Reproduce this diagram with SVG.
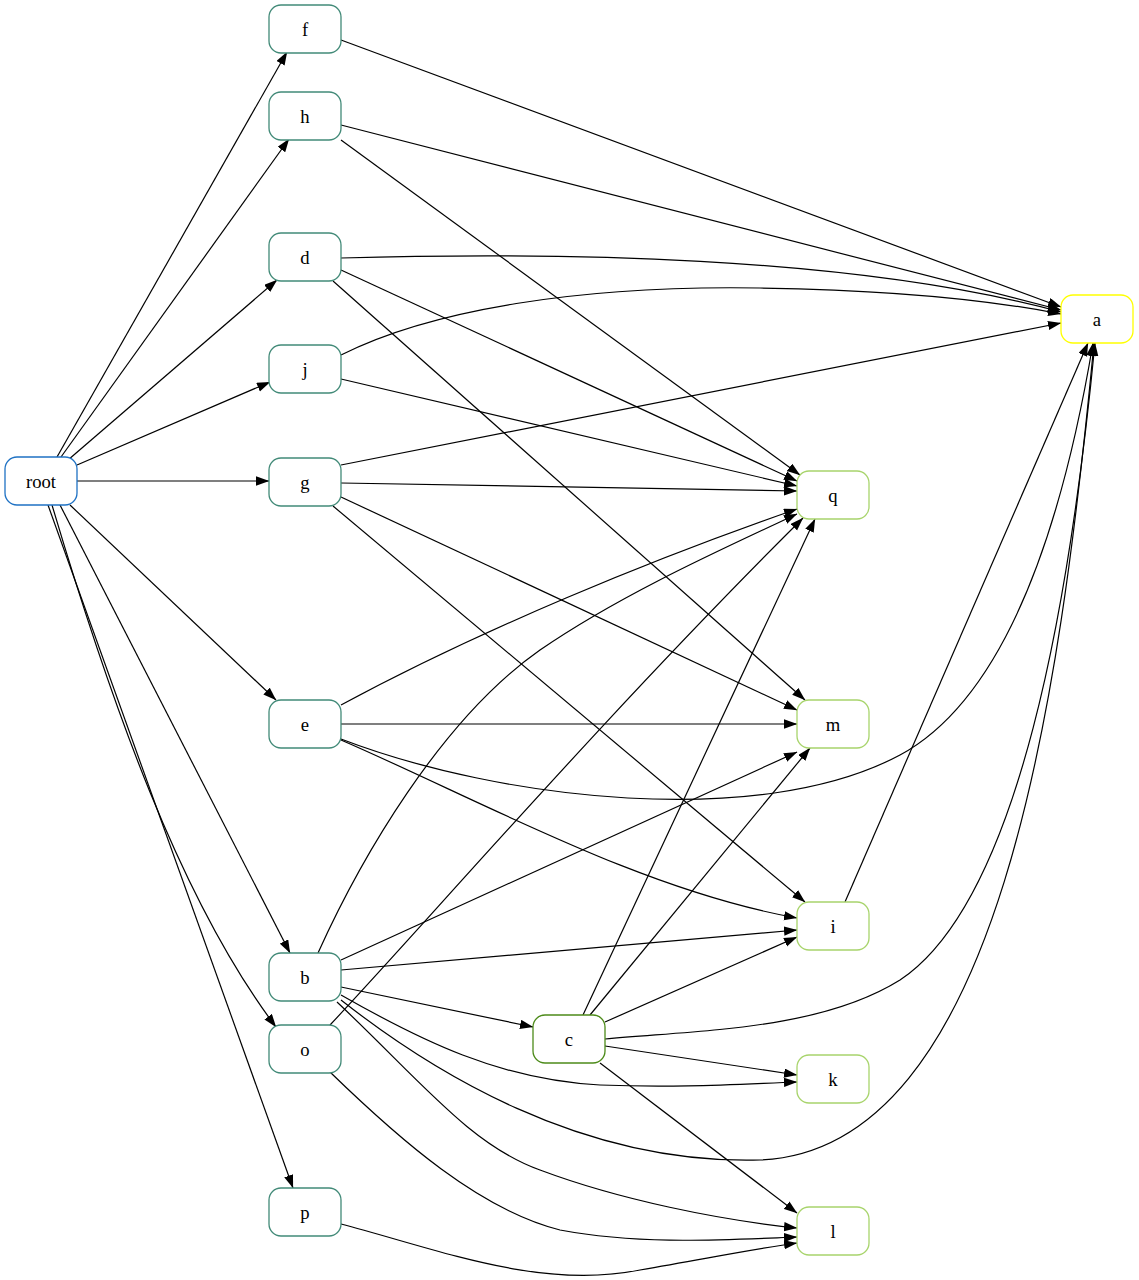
<svg xmlns="http://www.w3.org/2000/svg" width="1139" height="1280" viewBox="0 0 1139 1280">
<style>
.n rect{fill:#fff;stroke-width:1.3}
.n text{font-family:"Liberation Serif","Times New Roman",serif;font-size:18.67px;text-anchor:middle;dominant-baseline:central;fill:#000}
.r rect{stroke:#1f72c4}
.m rect{stroke:#428a78}
.c rect{stroke:#4d8b1a}
.lf rect{stroke:#a8d46c}
.ya rect{stroke:#ffff00}
#edges path{fill:none;stroke:#000;stroke-width:1.2;marker-end:url(#ah)}
</style>
<defs>
<marker id="ah" markerUnits="userSpaceOnUse" markerWidth="14" markerHeight="10" refX="13" refY="4.65" orient="auto"><path d="M0,0 L13.3,4.65 L0,9.3 z" fill="#000"/></marker>
</defs>
<rect width="1139" height="1280" fill="#fff"/>
<g id="edges">
<path d="M57,457 L287,52"/>
<path d="M61,457 L289,139"/>
<path d="M68,460 L277,280"/>
<path d="M77,465 L270,382"/>
<path d="M77,481 L269,481"/>
<path d="M70,505 L276,700"/>
<path d="M60,505 L290,953"/>
<path d="M52,505 C 110,700 180,900 276,1027"/>
<path d="M48,505 L293,1188"/>
<path d="M341,40 L1061,307"/>
<path d="M341,125 L1061,310"/>
<path d="M341,258 C 550,252 850,255 1061,312"/>
<path d="M341,355 C 430,310 580,285 760,288 C 900,290 1000,302 1061,314"/>
<path d="M341,465 L1061,323"/>
<path d="M341,140 L800,475"/>
<path d="M341,270 L797,481"/>
<path d="M333,281 L805,700"/>
<path d="M341,379 L797,486"/>
<path d="M341,483 L797,491"/>
<path d="M341,497 L797,710"/>
<path d="M333,506 L805,902"/>
<path d="M341,705 C 480,630 650,560 797,509"/>
<path d="M341,724 L797,724"/>
<path d="M341,740 C 480,800 640,890 797,918"/>
<path d="M341,739 C 500,800 760,830 900,755 C 1020,690 1070,480 1093,343"/>
<path d="M318,953 C 360,860 440,720 540,650 C 620,595 720,550 797,514"/>
<path d="M330,1025 C 420,930 600,720 803,518"/>
<path d="M341,960 L797,752"/>
<path d="M341,970 L797,930"/>
<path d="M341,987 L533,1027"/>
<path d="M341,995 C 420,1040 500,1080 600,1085 C 680,1088 740,1084 797,1082"/>
<path d="M341,1000 C 430,1070 580,1165 760,1160 C 1000,1150 1060,700 1094,343"/>
<path d="M337,1002 C 420,1080 470,1145 540,1170 C 620,1200 720,1220 797,1228"/>
<path d="M330,1072 C 400,1140 480,1210 560,1230 C 640,1245 720,1240 797,1237"/>
<path d="M341,1224 C 440,1250 540,1290 640,1270 C 720,1256 760,1248 797,1243"/>
<path d="M583,1015 L815,519"/>
<path d="M590,1015 L810,748"/>
<path d="M605,1022 L797,937"/>
<path d="M605,1039 C 700,1030 820,1030 900,980 C 1020,900 1070,600 1095,343"/>
<path d="M605,1046 L797,1075"/>
<path d="M600,1063 L797,1213"/>
<path d="M845,902 L1088,343"/>
</g>
<g id="root" class="n r"><rect x="5" y="457" width="72" height="48" rx="12"/><text x="41" y="481">root</text></g>
<g id="f" class="n m"><rect x="269" y="5" width="72" height="48" rx="12"/><text x="305" y="29">f</text></g>
<g id="h" class="n m"><rect x="269" y="92" width="72" height="48" rx="12"/><text x="305" y="116">h</text></g>
<g id="d" class="n m"><rect x="269" y="233" width="72" height="48" rx="12"/><text x="305" y="257">d</text></g>
<g id="j" class="n m"><rect x="269" y="345" width="72" height="48" rx="12"/><text x="305" y="369">j</text></g>
<g id="g" class="n m"><rect x="269" y="458" width="72" height="48" rx="12"/><text x="305" y="482">g</text></g>
<g id="e" class="n m"><rect x="269" y="700" width="72" height="48" rx="12"/><text x="305" y="724">e</text></g>
<g id="b" class="n m"><rect x="269" y="953" width="72" height="48" rx="12"/><text x="305" y="977">b</text></g>
<g id="o" class="n m"><rect x="269" y="1025" width="72" height="48" rx="12"/><text x="305" y="1049">o</text></g>
<g id="p" class="n m"><rect x="269" y="1188" width="72" height="48" rx="12"/><text x="305" y="1212">p</text></g>
<g id="c" class="n c"><rect x="533" y="1015" width="72" height="48" rx="12"/><text x="569" y="1039">c</text></g>
<g id="q" class="n lf"><rect x="797" y="471" width="72" height="48" rx="12"/><text x="833" y="495">q</text></g>
<g id="m" class="n lf"><rect x="797" y="700" width="72" height="48" rx="12"/><text x="833" y="724">m</text></g>
<g id="i" class="n lf"><rect x="797" y="902" width="72" height="48" rx="12"/><text x="833" y="926">i</text></g>
<g id="k" class="n lf"><rect x="797" y="1055" width="72" height="48" rx="12"/><text x="833" y="1079">k</text></g>
<g id="l" class="n lf"><rect x="797" y="1207" width="72" height="48" rx="12"/><text x="833" y="1231">l</text></g>
<g id="a" class="n ya"><rect x="1061" y="295" width="72" height="48" rx="12"/><text x="1097" y="319">a</text></g>
</svg>
